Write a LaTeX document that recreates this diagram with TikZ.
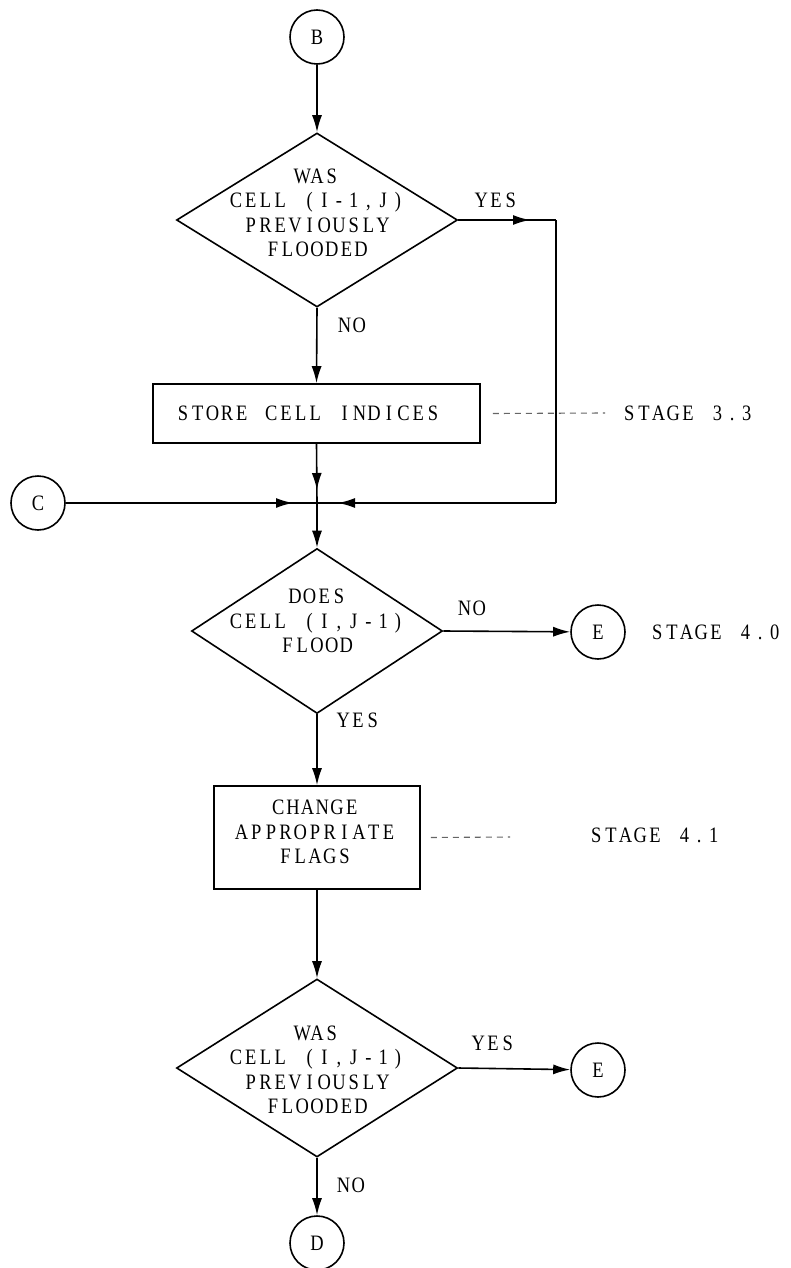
\documentclass[tikz,border=0pt]{standalone}
\usepackage{graphicx}
\usepackage{fontspec}
\setmainfont{Liberation Serif}
\usetikzlibrary{shapes.geometric,arrows.meta,decorations.markings}
\def\pitchend{PITCHEND}
\def\pitch#1{\pitchx#1\pitchend}
\def\pitchx#1{\ifx#1\pitchend\else\makebox[14.7pt]{\scalebox{0.84}[1]{#1}}\expandafter\pitchx\fi}
\begin{document}
\begin{tikzpicture}[x=1pt,y=-1pt,
  line width=1.6pt,
  every node/.style={font=\fontsize{22}{24.5}\selectfont},
  conn/.style={circle, draw, minimum size=54pt, inner sep=0pt},
  dec/.style={diamond, draw, inner sep=0pt},
  proc/.style={rectangle, draw, inner sep=0pt},
  txt/.style={align=center, inner sep=0pt},
  lbl/.style={inner sep=0pt},
  tip/.style={-{Latex[length=17pt,width=10pt]}},
  arrowat/.style={postaction={decorate}, decoration={markings, mark=at position #1 with {\arrow{Latex[length=17pt,width=10pt]}}}},
  dashline/.style={dash pattern=on 6pt off 5pt, line width=1.1pt, black!60}
]
\useasboundingbox (0,0) rectangle (790,1268);

% nodes
\node[conn] (B) at (317,37) {\pitch{B}};
\node[dec, minimum width=281pt, minimum height=174pt] (d1) at (317,220) {};
\node[txt] (t1) at (317,213) {\pitch{WAS}\\\pitch{CELL~(I-1,J)}\\\pitch{PREVIOUSLY}\\\pitch{FLOODED}};
\node[proc, minimum width=327pt, minimum height=59pt] (p1) at (316.5,413.5) {};
\node[txt] (t0) at (308,413) {\pitch{STORE~CELL~INDICES}};
\node[conn] (C) at (38,503) {\pitch{C}};
\coordinate (J) at (317,503);
\coordinate (r1) at (556,220);
\coordinate (r2) at (556,503);
\node[dec, minimum width=251pt, minimum height=165pt] (d2) at (317,631) {};
\node[txt] (t2) at (317,621) {\pitch{DOES}\\\pitch{CELL~(I,J-1)}\\\pitch{FLOOD}};
\node[conn] (E1) at (598,632) {\pitch{E}};
\node[proc, minimum width=206pt, minimum height=103pt] (p2) at (317,837.5) {};
\node[txt] (t3) at (315,832) {\pitch{CHANGE}\\\pitch{APPROPRIATE}\\\pitch{FLAGS}};
\node[dec, minimum width=281pt, minimum height=178pt] (d3) at (317,1068) {};
\node[txt] (t4) at (317,1070) {\pitch{WAS}\\\pitch{CELL~(I,J-1)}\\\pitch{PREVIOUSLY}\\\pitch{FLOODED}};
\node[conn] (E2) at (598,1070) {\pitch{E}};
\node[conn] (D) at (317,1243) {\pitch{D}};
\coordinate (ds1) at (605,413);
\coordinate (ds2) at (510,837);

% labels
\node[lbl] (yes1) at (496,200) {\pitch{YES}};
\node[lbl] (no1) at (352,325) {\pitch{NO}};
\node[lbl] (no2) at (472,608) {\pitch{NO}};
\node[lbl] (yes2) at (358,720) {\pitch{YES}};
\node[lbl] (yes3) at (493,1043) {\pitch{YES}};
\node[lbl] (no3) at (351,1185) {\pitch{NO}};
\node[lbl] (s33) at (688,413) {\pitch{STAGE~3.3}};
\node[lbl] (s40) at (716,632) {\pitch{STAGE~4.0}};
\node[lbl] (s41) at (655,835) {\pitch{STAGE~4.1}};

% connectors
\draw[tip] (B) -- (d1.north);
\draw[tip] (d1.south) -- (p1.north);
\draw[arrowat=-26pt] (d1.east) -- (r1);
\draw (r1) -- (r2);
\draw[arrowat=-21pt] (r2) -- (J);
\draw[arrowat=-24pt] (C) -- (J);
\draw[arrowat=-13pt] (p1.south) -- (J);
\draw[tip] (J) -- (d2.north);
\draw[tip] (d2.east) -- (E1);
\draw[tip] (d2.south) -- (p2.north);
\draw[tip] (p2.south) -- (d3.north);
\draw[tip] (d3.east) -- (E2);
\draw[tip] (d3.south) -- (D);
\draw[dashline] (p1.east) ++(12,0) -- (ds1);
\draw[dashline] (p2.east) ++(10,0) -- (ds2);
\end{tikzpicture}
\end{document}
